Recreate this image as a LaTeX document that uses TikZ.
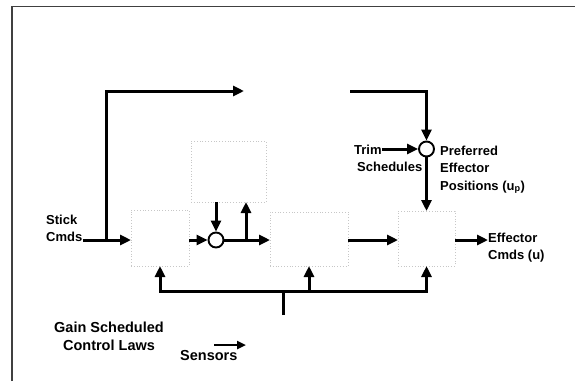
\documentclass[tikz,border=0pt]{standalone}
\usepackage{fontspec}
\setmainfont{Liberation Sans}
\usetikzlibrary{arrows.meta,calc}
\begin{document}
\begin{tikzpicture}[x=1pt,y=-1pt,
  lbl/.style={font=\bfseries\fontsize{13}{17.5}\selectfont, inner sep=0pt, align=left, anchor=north west},
  biglbl/.style={lbl, font=\bfseries\fontsize{14.5}{18.5}\selectfont},
  wire/.style={line width=3pt, black},
  arr/.style={wire, -{Triangle[length=11pt,width=10pt]}},
  smallarr/.style={line width=2.4pt, black, -{Triangle[length=9pt,width=8pt]}},
  blk/.style={draw=black!22, dotted, line width=0.8pt, inner sep=0pt, outer sep=0pt},
  hid/.style={inner sep=0pt, outer sep=0pt},
  sumj/.style={circle, draw, line width=1.9pt, fill=white, minimum size=15pt, inner sep=0pt}
]
\useasboundingbox (0,0) rectangle (575,381);
% frame
\draw[black!75, line width=1.2pt] (12,381) -- (12,6.5) -- (575,6.5);

% blocks (faded in the reference)
\node[blk, minimum width=58pt, minimum height=56pt] (b1) at (160,238) {};
\node[blk, minimum width=75pt, minimum height=61pt] (btop) at (228.5,171.5) {};
\node[blk, minimum width=78pt, minimum height=54pt] (b2) at (309,239) {};
\node[blk, minimum width=57pt, minimum height=55pt] (b3) at (426.5,238.5) {};
\node[hid, minimum width=106pt, minimum height=30pt] (bhid) at (297,91) {};

% junctions
\node[sumj] (sum) at (216,240) {};
\node[sumj] (pref) at (426.5,149) {};

% labels
\node[lbl] (stick) at (46,214.5) {Stick\\Cmds};
\node[lbl] (trim) at (354,144.5) {Trim};
\node[lbl] (sched) at (357,161.5) {Schedules};
\node[lbl] (prefl) at (440,145.5) {Preferred\\Effector\\Positions (u\textsubscript{p})};
\node[lbl] (effl) at (488,232.5) {Effector\\Cmds (u)};
\node[biglbl, align=center, anchor=north] (gain) at (109,321.5) {Gain Scheduled\\Control Laws};
\node[biglbl] (sens) at (180,350.5) {Sensors};

\coordinate (j1) at (106,240);
\coordinate (br) at (246,240);
\coordinate (stem) at (283,315);
\coordinate (bus) at (283,291.5);
\coordinate (sa) at (214,345);
\coordinate (sb) at (246,345);

% main path
\draw[arr] (stick.east |- sum.center) -- (b1.west |- sum.center);
\draw[arr] (j1) |- (bhid.west);
\draw[arr] (bhid.east) -| (pref.north);
\draw[arr] (trim.east |- pref.center) -- (pref.west);
\draw[arr] (pref.south) -- (pref.south |- b3.north);
\draw[arr] (b1.east |- sum.center) -- (sum.west);
\draw[arr] (sum.north |- btop.south) -- (sum.north);
\draw[arr] (sum.east) -- (b2.west |- sum.center);
\draw[arr] (br) -- (br |- btop.south);
\draw[arr] (b2.east |- sum.center) -- (b3.west |- sum.center);
\draw[arr] (b3.east |- sum.center) -- (effl.west |- sum.center);

% feedback bus
\draw[wire] (stem) -- (bus);
\draw[arr] (bus) -| (b1.south);
\draw[arr] (bus) -| (b3.south);
\draw[arr] (b2.south |- bus) -- (b2.south);

% sensors legend arrow
\draw[smallarr] (sa) -- (sb);
\end{tikzpicture}
\end{document}
